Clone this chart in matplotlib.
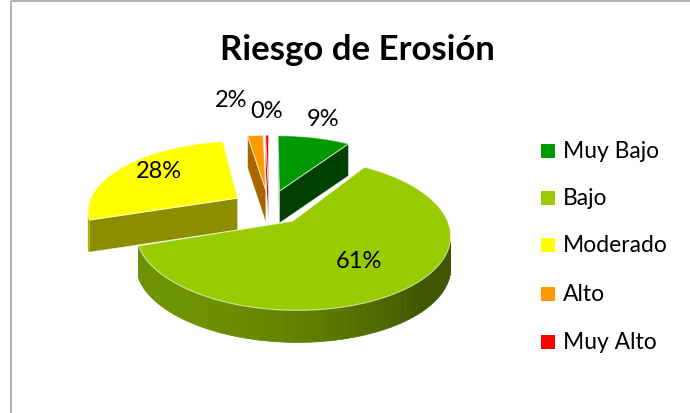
import numpy as np
import matplotlib.pyplot as plt
import matplotlib.colors as mcolors
from matplotlib.patches import Polygon, Rectangle

# datos
categorias = ['Muy Bajo', 'Bajo', 'Moderado', 'Alto', 'Muy Alto']
valores = [9.3, 60.6, 27.7, 2.0, 0.4]
etiquetas = ['9%', '61%', '28%', '2%', '0%']
colores = ['#009900', '#99CC00', '#FFFF00', '#FF9900', '#FF0000']

# posicion de etiquetas (radio, desplazamiento angular, altura en px)
lab_r = [1.3, 0.62, 0.72, 1.42, 1.32]
lab_da = [0, 0, 4, -7, 0]
lab_z = [6, 0, 2, 18, 10]

plt.rcParams['font.family'] = ['Lato', 'DejaVu Sans']

# geometria de la tarta 3D (perspectiva)
cx, cy = 269, 208
D = 5.4
tilt = np.radians(27.5)
F = 150 * D
h = 32          # grosor en px
expl = 0.25
cam = np.array([0.0, -D * np.cos(tilt), D * np.sin(tilt)])
luz = np.array([-0.707, -0.707])


def proj(u, v, z=0):
    d = D + v * np.cos(tilt)
    return cx + F * u / d, cy - F * v * np.sin(tilt) / d - z


def sombra(color, f):
    c = np.array(mcolors.to_rgb(color))
    return tuple(np.clip(c * f, 0, 1))


def factor(n):
    return 0.42 + 0.3 * max(0.0, n[0] * luz[0] + n[1] * luz[1])


def visible(p, n):
    return np.dot(cam - p, n) > 0


fig = plt.figure(figsize=(6.9, 4.14), dpi=100)
ax = fig.add_axes([0, 0, 1, 1])
ax.set_xlim(0, 690)
ax.set_ylim(414, 0)
ax.axis('off')

tot = sum(valores)
acum = np.cumsum([0] + valores) / tot * 360
cuñas = []
for i in range(len(valores)):
    t1, t2 = np.radians(acum[i]), np.radians(acum[i + 1])
    m = (t1 + t2) / 2
    ou, ov = expl * np.sin(m), expl * np.cos(m)
    cuñas.append((i, t1, t2, m, ou, ov))

# de atras hacia adelante
cuñas.sort(key=lambda c: -(c[5] + 0.5 * np.cos(c[3])))

edge = (1, 1, 1, 0.6)
for i, t1, t2, m, ou, ov in cuñas:
    col = colores[i]
    caras = []
    ths = np.linspace(t1, t2, max(3, int(np.degrees(t2 - t1) / 2) + 2))
    # pared exterior
    for a, b in zip(ths[:-1], ths[1:]):
        mid = (a + b) / 2
        n = np.array([np.sin(mid), np.cos(mid), 0])
        p = np.array([ou + np.sin(mid), ov + np.cos(mid), -0.09])
        if visible(p, n):
            pts = [proj(ou + np.sin(a), ov + np.cos(a)),
                   proj(ou + np.sin(b), ov + np.cos(b)),
                   proj(ou + np.sin(b), ov + np.cos(b), -h),
                   proj(ou + np.sin(a), ov + np.cos(a), -h)]
            caras.append((p[1], pts, sombra(col, factor(n)), 'none'))
    # caras radiales
    for th, n in [(t1, np.array([-np.cos(t1), np.sin(t1), 0])),
                  (t2, np.array([np.cos(t2), -np.sin(t2), 0]))]:
        p = np.array([ou + 0.5 * np.sin(th), ov + 0.5 * np.cos(th), -0.09])
        if visible(p, n):
            pts = [proj(ou, ov), proj(ou + np.sin(th), ov + np.cos(th)),
                   proj(ou + np.sin(th), ov + np.cos(th), -h), proj(ou, ov, -h)]
            caras.append((p[1], pts, sombra(col, factor(n)), edge))
    caras.sort(key=lambda c: -c[0])
    for _, pts, fc, ec in caras:
        ax.add_patch(Polygon(pts, closed=True, fc=fc, ec=fc if ec == 'none' else ec,
                             lw=0.6))
    top = [proj(ou, ov)] + [proj(ou + np.sin(a), ov + np.cos(a)) for a in ths]
    ax.add_patch(Polygon(top, closed=True, fc=col, ec=edge, lw=0.8))

# etiquetas
for i, t1, t2, m, ou, ov in cuñas:
    a = m + np.radians(lab_da[i])
    x, y = proj(ou + lab_r[i] * np.sin(a), ov + lab_r[i] * np.cos(a), lab_z[i])
    ax.text(x, y, etiquetas[i], ha='center', va='center', fontsize=17, color='black')

ax.text(357, 50, 'Riesgo de Erosión', ha='center', va='center', fontsize=25,
        fontweight='bold', color='black')

# leyenda
ys = [152, 199, 246, 295, 343]
for i, cat in enumerate(categorias):
    ax.add_patch(Rectangle((541, ys[i] - 7), 14, 14, fc=colores[i], ec='none'))
    ax.text(563, ys[i], cat, ha='left', va='center', fontsize=16.5, color='black')

# borde
ax.add_patch(Rectangle((11, 2), 700, 430, fc='none', ec='#b3b3b3', lw=1.5))

fig.savefig('out.png', dpi=100)
